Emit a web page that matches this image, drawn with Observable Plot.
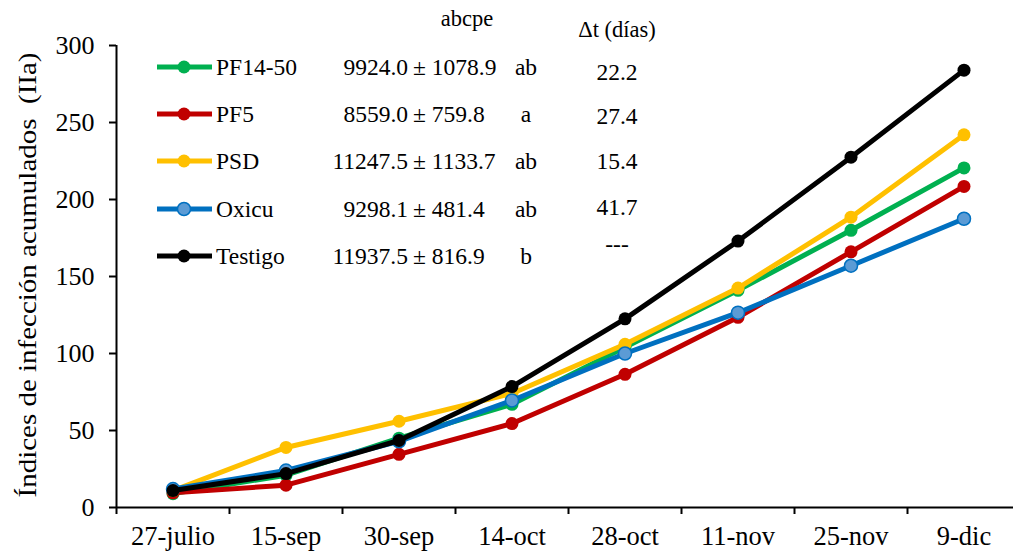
<!DOCTYPE html>
<html>
<head>
<meta charset="utf-8">
<script src="https://cdn.jsdelivr.net/npm/d3@7"></script>
<script src="https://cdn.jsdelivr.net/npm/@observablehq/plot@0.6"></script>
<style>
  html, body { margin: 0; padding: 0; background: #fff; }
  #chart svg { display: block; }
  #chart svg text { font-family: "Liberation Serif", "Times New Roman", serif !important; }
</style>
</head>
<body>
<div id="chart"></div>
<script>
// ---- data ----
const categories = ["27-julio", "15-sep", "30-sep", "14-oct", "28-oct", "11-nov", "25-nov", "9-dic"];
const series = ["PF14-50", "PF5", "PSD", "Oxicu", "Testigo"];
const pf1450  = [9, 21, 45, 67, 104, 141, 180, 220.5];
const pf5     = [9.5, 14.5, 34.5, 54.5, 86.5, 123.5, 166, 208.5];
const psd     = [11, 39, 56, 74, 106, 142.5, 188.5, 242];
const oxicu   = [12, 24, 43, 69.5, 100, 126.5, 157, 187.5];
const testigo = [11, 22, 43.5, 78.5, 122.5, 173, 227.5, 284];
const abcpeMean = ["9924.0", "8559.0", "11247.5", "9298.1", "11937.5"];
const abcpeSd   = ["± 1078.9", "± 759.8", "± 1133.7", "± 481.4", "± 816.9"];
const letters   = ["ab", "a", "ab", "ab", "b"];
const deltaT    = ["22.2", "27.4", "15.4", "41.7", "---"];
const yTicks = [0, 50, 100, 150, 200, 250, 300];

// ---- styles ----
const lineColors = ["#00B050", "#C00000", "#FFC000", "#0070C0", "#000000"];
const dotFills   = ["#00B050", "#C00000", "#FFC000", "#5B9BD5", "#000000"];
const FONT = '"Liberation Serif", "Times New Roman", serif';
const FS = 23.5;

const values = [pf1450, pf5, psd, oxicu, testigo];
const tidy = series.map((s, k) => values[k].map((v, i) => ({s, i, v})));

const W = 1013, H = 551;
const marks = [];
tidy.forEach((d, k) => {
  marks.push(Plot.line(d, {x: "i", y: "v", stroke: lineColors[k], strokeWidth: 5, strokeLinejoin: "round"}));
  marks.push(Plot.dot(d, {x: "i", y: "v", r: 6.5, fill: dotFills[k],
    stroke: k === 3 ? "#0070C0" : dotFills[k], strokeWidth: k === 3 ? 1.5 : 0}));
});

const chart = Plot.plot({
  width: W, height: H,
  marginLeft: 116, marginRight: 0, marginTop: 45, marginBottom: 44,
  style: {fontFamily: FONT, fontSize: FS + "px", color: "#000", background: "#fff"},
  x: {type: "linear", domain: [-0.5, 7.5], range: [116, 1020]},
  y: {domain: [0, 300]},
  marks: [
    Plot.axisY({ticks: yTicks, tickSize: 7, tickPadding: 15, tickFormat: d => d, label: null,
      stroke: "#000", strokeWidth: 2, fontSize: 26, fontFamily: FONT}),
    Plot.axisX({ticks: d3.range(-0.5, 7, 1), tickSize: 7, tickFormat: () => "", label: null, strokeWidth: 2}),
    Plot.axisX({ticks: d3.range(0, 8), tickSize: 0, tickPadding: 19, tickFormat: i => categories[i], label: null,
      fontSize: 26.5, fontFamily: FONT}),
    Plot.ruleY([0], {stroke: "#000", strokeWidth: 2}),
    Plot.ruleX([-0.5], {y1: 0, y2: 300, stroke: "#000", strokeWidth: 2}),
    ...marks
  ]
});
document.getElementById("chart").appendChild(chart);

// ---- annotations: y title, legend, table ----
const svg = d3.select(chart);
const g = svg.append("g").attr("font-family", FONT).attr("font-size", FS)
  .attr("fill", "#000").attr("text-anchor", "start");

g.append("text")
  .attr("transform", "translate(36,275) rotate(-90)")
  .attr("text-anchor", "middle")
  .attr("font-size", 26)
  .attr("textLength", 445).attr("lengthAdjust", "spacingAndGlyphs")
  .style("white-space", "pre")
  .text("Índices de infección acumulados  (IIa)");

const rowY = [67, 114, 161, 209, 256];
series.forEach((s, k) => {
  const y = rowY[k];
  g.append("line").attr("x1", 157).attr("x2", 212).attr("y1", y).attr("y2", y)
    .attr("stroke", lineColors[k]).attr("stroke-width", 5);
  g.append("circle").attr("cx", 184).attr("cy", y).attr("r", 6.5)
    .attr("fill", dotFills[k]).attr("stroke", k === 3 ? "#0070C0" : "none").attr("stroke-width", 1.5);
  g.append("text").attr("x", 216).attr("y", y + 8).text(s);
  g.append("text").attr("x", 408).attr("y", y + 8).attr("text-anchor", "end").text(abcpeMean[k]);
  g.append("text").attr("x", 413).attr("y", y + 8).style("white-space", "pre").text(abcpeSd[k]);
  g.append("text").attr("x", 526).attr("y", y + 8).attr("text-anchor", "middle").text(letters[k]);
});
const dtY = [72, 116, 161, 207, 244];
deltaT.forEach((t, k) => {
  g.append("text").attr("x", 617).attr("y", dtY[k] + 8).attr("text-anchor", "middle").text(t);
});
g.append("text").attr("x", 467).attr("y", 26).attr("text-anchor", "middle").attr("font-size", 22.5).text("abcpe");
g.append("text").attr("x", 617).attr("y", 37).attr("text-anchor", "middle").attr("font-size", 22.5).text("Δt (días)");
</script>
</body>
</html>
